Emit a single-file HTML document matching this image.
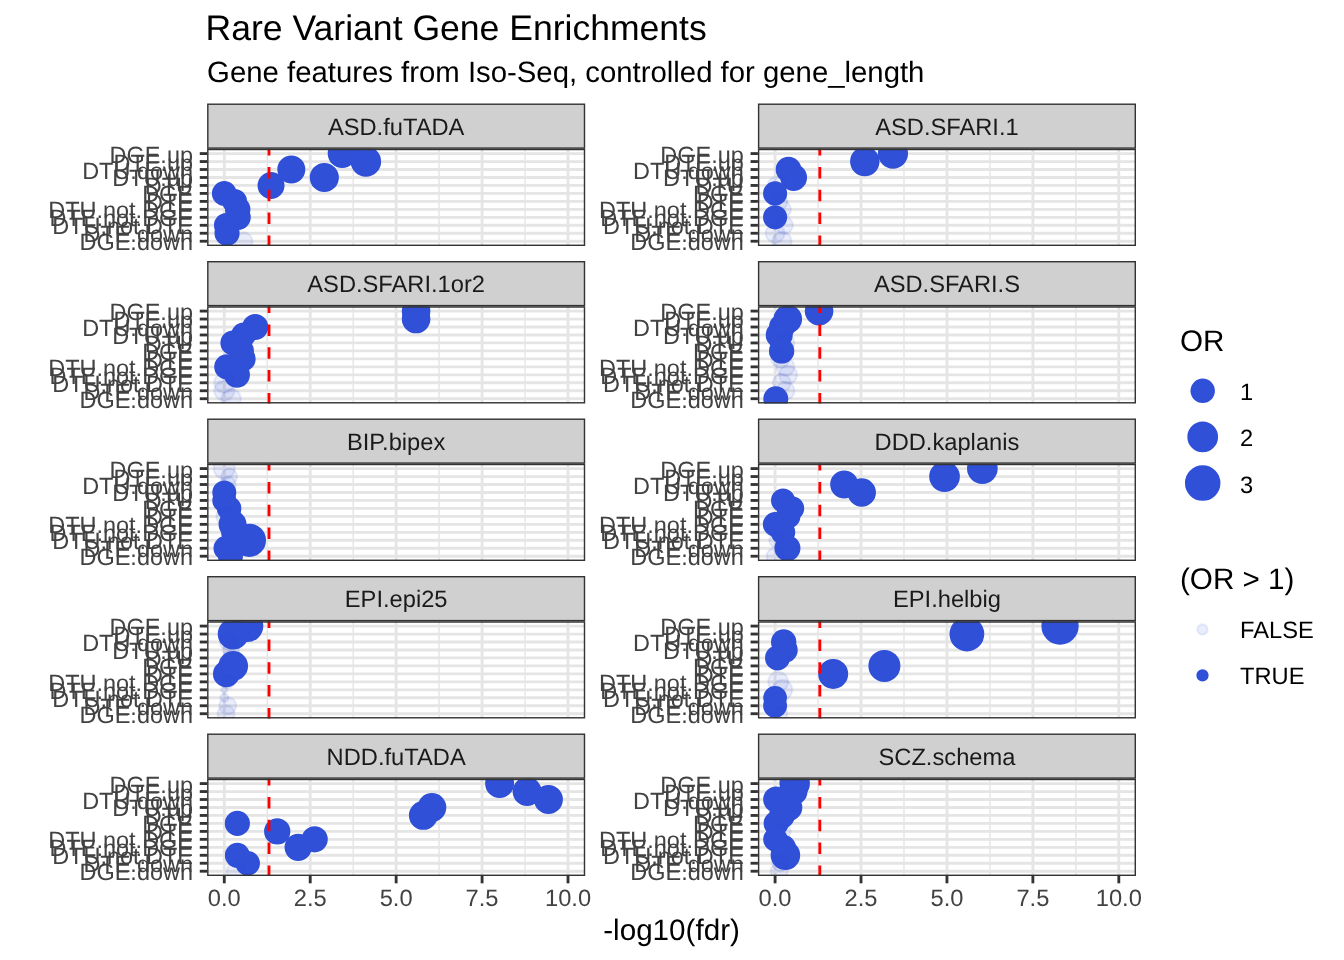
<!DOCTYPE html><html><head><meta charset="utf-8"><title>Rare Variant Gene Enrichments</title><style>html,body{margin:0;padding:0;background:#fff;}svg{display:block;will-change:transform;}text{font-family:"Liberation Sans", sans-serif;text-rendering:geometricPrecision;}</style></head><body>
<svg width="1344" height="960" viewBox="0 0 1344 960">
<rect width="1344" height="960" fill="#fff"/>
<text x="205.6" y="40.0" font-size="35.55" fill="#000">Rare Variant Gene Enrichments</text>
<text x="207.1" y="82.2" font-size="29.33" fill="#000">Gene features from Iso-Seq, controlled for gene_length</text>
<defs><clipPath id="c0"><rect x="207.1" y="148.8" width="378.1" height="97.2"/></clipPath><clipPath id="c1"><rect x="757.9" y="148.8" width="378.1" height="97.2"/></clipPath><clipPath id="c2"><rect x="207.1" y="306.3" width="378.1" height="97.2"/></clipPath><clipPath id="c3"><rect x="757.9" y="306.3" width="378.1" height="97.2"/></clipPath><clipPath id="c4"><rect x="207.1" y="463.8" width="378.1" height="97.2"/></clipPath><clipPath id="c5"><rect x="757.9" y="463.8" width="378.1" height="97.2"/></clipPath><clipPath id="c6"><rect x="207.1" y="621.3" width="378.1" height="97.2"/></clipPath><clipPath id="c7"><rect x="757.9" y="621.3" width="378.1" height="97.2"/></clipPath><clipPath id="c8"><rect x="207.1" y="778.8" width="378.1" height="97.2"/></clipPath><clipPath id="c9"><rect x="757.9" y="778.8" width="378.1" height="97.2"/></clipPath></defs>
<g clip-path="url(#c0)"><line x1="267.25" y1="148.8" x2="267.25" y2="246" stroke="#E5E5E5" stroke-width="1.42"/><line x1="353.18" y1="148.8" x2="353.18" y2="246" stroke="#E5E5E5" stroke-width="1.42"/><line x1="439.12" y1="148.8" x2="439.12" y2="246" stroke="#E5E5E5" stroke-width="1.42"/><line x1="525.05" y1="148.8" x2="525.05" y2="246" stroke="#E5E5E5" stroke-width="1.42"/><line x1="207.1" y1="153.58" x2="585.2" y2="153.58" stroke="#E5E5E5" stroke-width="2.84"/><line x1="207.1" y1="161.55" x2="585.2" y2="161.55" stroke="#E5E5E5" stroke-width="2.84"/><line x1="207.1" y1="169.51" x2="585.2" y2="169.51" stroke="#E5E5E5" stroke-width="2.84"/><line x1="207.1" y1="177.48" x2="585.2" y2="177.48" stroke="#E5E5E5" stroke-width="2.84"/><line x1="207.1" y1="185.45" x2="585.2" y2="185.45" stroke="#E5E5E5" stroke-width="2.84"/><line x1="207.1" y1="193.42" x2="585.2" y2="193.42" stroke="#E5E5E5" stroke-width="2.84"/><line x1="207.1" y1="201.38" x2="585.2" y2="201.38" stroke="#E5E5E5" stroke-width="2.84"/><line x1="207.1" y1="209.35" x2="585.2" y2="209.35" stroke="#E5E5E5" stroke-width="2.84"/><line x1="207.1" y1="217.32" x2="585.2" y2="217.32" stroke="#E5E5E5" stroke-width="2.84"/><line x1="207.1" y1="225.29" x2="585.2" y2="225.29" stroke="#E5E5E5" stroke-width="2.84"/><line x1="207.1" y1="233.25" x2="585.2" y2="233.25" stroke="#E5E5E5" stroke-width="2.84"/><line x1="207.1" y1="241.22" x2="585.2" y2="241.22" stroke="#E5E5E5" stroke-width="2.84"/><line x1="224.29" y1="148.8" x2="224.29" y2="246" stroke="#E5E5E5" stroke-width="2.84"/><line x1="310.22" y1="148.8" x2="310.22" y2="246" stroke="#E5E5E5" stroke-width="2.84"/><line x1="396.15" y1="148.8" x2="396.15" y2="246" stroke="#E5E5E5" stroke-width="2.84"/><line x1="482.08" y1="148.8" x2="482.08" y2="246" stroke="#E5E5E5" stroke-width="2.84"/><line x1="568.01" y1="148.8" x2="568.01" y2="246" stroke="#E5E5E5" stroke-width="2.84"/><circle cx="342.18" cy="153.58" r="13.55" fill="#3050D8" stroke="#3050D8" stroke-width="1.89"/><circle cx="365.9" cy="161.55" r="14.3" fill="#3050D8" stroke="#3050D8" stroke-width="1.89"/><circle cx="291.31" cy="169.51" r="13.05" fill="#3050D8" stroke="#3050D8" stroke-width="1.89"/><circle cx="324.31" cy="177.48" r="13.65" fill="#3050D8" stroke="#3050D8" stroke-width="1.89"/><circle cx="271.03" cy="185.45" r="12.55" fill="#3050D8" stroke="#3050D8" stroke-width="1.89"/><circle cx="224.29" cy="193.42" r="11.46" fill="#3050D8" stroke="#3050D8" stroke-width="1.89"/><circle cx="234.6" cy="201.38" r="11.46" fill="#3050D8" stroke="#3050D8" stroke-width="1.89"/><circle cx="237.69" cy="209.35" r="11.8" fill="#3050D8" stroke="#3050D8" stroke-width="1.89"/><circle cx="238.04" cy="217.32" r="11.8" fill="#3050D8" stroke="#3050D8" stroke-width="1.89"/><circle cx="226.35" cy="225.29" r="11.46" fill="#3050D8" stroke="#3050D8" stroke-width="1.89"/><circle cx="227.04" cy="233.25" r="11.61" fill="#3050D8" stroke="#3050D8" stroke-width="1.89"/><circle cx="243.54" cy="241.22" r="8.96" fill="#3050D8" fill-opacity="0.1" stroke="#3050D8" stroke-opacity="0.1" stroke-width="1.89"/><line x1="269.01" y1="246.8" x2="269.01" y2="143.8" stroke="#FF0000" stroke-width="2.84" stroke-dasharray="11.4 11.4"/><rect x="207.1" y="148.8" width="378.1" height="97.2" fill="none" stroke="#333333" stroke-width="2.84"/></g>
<rect x="207.81" y="104.21" width="376.68" height="43.88" fill="#D0D0D0" stroke="#333333" stroke-width="1.42"/>
<text x="396.15" y="134.9" font-size="23.7" fill="#1A1A1A" text-anchor="middle">ASD.fuTADA</text>
<line x1="199.77" y1="153.58" x2="207.1" y2="153.58" stroke="#333333" stroke-width="2.84"/>
<line x1="199.77" y1="161.55" x2="207.1" y2="161.55" stroke="#333333" stroke-width="2.84"/>
<line x1="199.77" y1="169.51" x2="207.1" y2="169.51" stroke="#333333" stroke-width="2.84"/>
<line x1="199.77" y1="177.48" x2="207.1" y2="177.48" stroke="#333333" stroke-width="2.84"/>
<line x1="199.77" y1="185.45" x2="207.1" y2="185.45" stroke="#333333" stroke-width="2.84"/>
<line x1="199.77" y1="193.42" x2="207.1" y2="193.42" stroke="#333333" stroke-width="2.84"/>
<line x1="199.77" y1="201.38" x2="207.1" y2="201.38" stroke="#333333" stroke-width="2.84"/>
<line x1="199.77" y1="209.35" x2="207.1" y2="209.35" stroke="#333333" stroke-width="2.84"/>
<line x1="199.77" y1="217.32" x2="207.1" y2="217.32" stroke="#333333" stroke-width="2.84"/>
<line x1="199.77" y1="225.29" x2="207.1" y2="225.29" stroke="#333333" stroke-width="2.84"/>
<line x1="199.77" y1="233.25" x2="207.1" y2="233.25" stroke="#333333" stroke-width="2.84"/>
<line x1="199.77" y1="241.22" x2="207.1" y2="241.22" stroke="#333333" stroke-width="2.84"/>
<text x="193" y="162.58" font-size="23.47" fill="#424242" text-anchor="end">DGE.up</text>
<text x="193" y="170.55" font-size="23.47" fill="#424242" text-anchor="end">DTE.up</text>
<text x="193" y="178.51" font-size="23.47" fill="#424242" text-anchor="end">DTU.down</text>
<text x="193" y="186.48" font-size="23.47" fill="#424242" text-anchor="end">DTU.up</text>
<text x="193" y="194.45" font-size="23.47" fill="#424242" text-anchor="end">DTU</text>
<text x="193" y="202.42" font-size="23.47" fill="#424242" text-anchor="end">DGE</text>
<text x="193" y="210.38" font-size="23.47" fill="#424242" text-anchor="end">DTE</text>
<text x="193" y="218.35" font-size="23.47" fill="#424242" text-anchor="end">DTU.not.DGE</text>
<text x="193" y="226.32" font-size="23.47" fill="#424242" text-anchor="end">DTE.not.DGE</text>
<text x="193" y="234.29" font-size="23.47" fill="#424242" text-anchor="end">DTU.not.DTE</text>
<text x="193" y="242.25" font-size="23.47" fill="#424242" text-anchor="end">DTE.down</text>
<text x="193" y="250.22" font-size="23.47" fill="#424242" text-anchor="end">DGE.down</text>
<g clip-path="url(#c1)"><line x1="818.05" y1="148.8" x2="818.05" y2="246" stroke="#E5E5E5" stroke-width="1.42"/><line x1="903.98" y1="148.8" x2="903.98" y2="246" stroke="#E5E5E5" stroke-width="1.42"/><line x1="989.92" y1="148.8" x2="989.92" y2="246" stroke="#E5E5E5" stroke-width="1.42"/><line x1="1075.85" y1="148.8" x2="1075.85" y2="246" stroke="#E5E5E5" stroke-width="1.42"/><line x1="757.9" y1="153.58" x2="1136" y2="153.58" stroke="#E5E5E5" stroke-width="2.84"/><line x1="757.9" y1="161.55" x2="1136" y2="161.55" stroke="#E5E5E5" stroke-width="2.84"/><line x1="757.9" y1="169.51" x2="1136" y2="169.51" stroke="#E5E5E5" stroke-width="2.84"/><line x1="757.9" y1="177.48" x2="1136" y2="177.48" stroke="#E5E5E5" stroke-width="2.84"/><line x1="757.9" y1="185.45" x2="1136" y2="185.45" stroke="#E5E5E5" stroke-width="2.84"/><line x1="757.9" y1="193.42" x2="1136" y2="193.42" stroke="#E5E5E5" stroke-width="2.84"/><line x1="757.9" y1="201.38" x2="1136" y2="201.38" stroke="#E5E5E5" stroke-width="2.84"/><line x1="757.9" y1="209.35" x2="1136" y2="209.35" stroke="#E5E5E5" stroke-width="2.84"/><line x1="757.9" y1="217.32" x2="1136" y2="217.32" stroke="#E5E5E5" stroke-width="2.84"/><line x1="757.9" y1="225.29" x2="1136" y2="225.29" stroke="#E5E5E5" stroke-width="2.84"/><line x1="757.9" y1="233.25" x2="1136" y2="233.25" stroke="#E5E5E5" stroke-width="2.84"/><line x1="757.9" y1="241.22" x2="1136" y2="241.22" stroke="#E5E5E5" stroke-width="2.84"/><line x1="775.09" y1="148.8" x2="775.09" y2="246" stroke="#E5E5E5" stroke-width="2.84"/><line x1="861.02" y1="148.8" x2="861.02" y2="246" stroke="#E5E5E5" stroke-width="2.84"/><line x1="946.95" y1="148.8" x2="946.95" y2="246" stroke="#E5E5E5" stroke-width="2.84"/><line x1="1032.88" y1="148.8" x2="1032.88" y2="246" stroke="#E5E5E5" stroke-width="2.84"/><line x1="1118.81" y1="148.8" x2="1118.81" y2="246" stroke="#E5E5E5" stroke-width="2.84"/><circle cx="892.98" cy="153.58" r="14.11" fill="#3050D8" stroke="#3050D8" stroke-width="1.89"/><circle cx="864.8" cy="161.55" r="13.8" fill="#3050D8" stroke="#3050D8" stroke-width="1.89"/><circle cx="788.49" cy="169.51" r="11.9" fill="#3050D8" stroke="#3050D8" stroke-width="1.89"/><circle cx="793.65" cy="177.48" r="12.46" fill="#3050D8" stroke="#3050D8" stroke-width="1.89"/><circle cx="776.8" cy="185.45" r="9.05" fill="#3050D8" fill-opacity="0.1" stroke="#3050D8" stroke-opacity="0.1" stroke-width="1.89"/><circle cx="775.09" cy="193.42" r="11.11" fill="#3050D8" stroke="#3050D8" stroke-width="1.89"/><circle cx="778.52" cy="201.38" r="9.05" fill="#3050D8" fill-opacity="0.1" stroke="#3050D8" stroke-opacity="0.1" stroke-width="1.89"/><circle cx="781.96" cy="209.35" r="9.05" fill="#3050D8" fill-opacity="0.1" stroke="#3050D8" stroke-opacity="0.1" stroke-width="1.89"/><circle cx="775.09" cy="217.32" r="11.11" fill="#3050D8" stroke="#3050D8" stroke-width="1.89"/><circle cx="784.37" cy="225.29" r="8.55" fill="#3050D8" fill-opacity="0.1" stroke="#3050D8" stroke-opacity="0.1" stroke-width="1.89"/><circle cx="775.09" cy="233.25" r="9.55" fill="#3050D8" fill-opacity="0.1" stroke="#3050D8" stroke-opacity="0.1" stroke-width="1.89"/><circle cx="781.96" cy="241.22" r="9.55" fill="#3050D8" fill-opacity="0.1" stroke="#3050D8" stroke-opacity="0.1" stroke-width="1.89"/><line x1="819.81" y1="246.8" x2="819.81" y2="143.8" stroke="#FF0000" stroke-width="2.84" stroke-dasharray="11.4 11.4"/><rect x="757.9" y="148.8" width="378.1" height="97.2" fill="none" stroke="#333333" stroke-width="2.84"/></g>
<rect x="758.61" y="104.21" width="376.68" height="43.88" fill="#D0D0D0" stroke="#333333" stroke-width="1.42"/>
<text x="946.95" y="134.9" font-size="23.7" fill="#1A1A1A" text-anchor="middle">ASD.SFARI.1</text>
<line x1="750.57" y1="153.58" x2="757.9" y2="153.58" stroke="#333333" stroke-width="2.84"/>
<line x1="750.57" y1="161.55" x2="757.9" y2="161.55" stroke="#333333" stroke-width="2.84"/>
<line x1="750.57" y1="169.51" x2="757.9" y2="169.51" stroke="#333333" stroke-width="2.84"/>
<line x1="750.57" y1="177.48" x2="757.9" y2="177.48" stroke="#333333" stroke-width="2.84"/>
<line x1="750.57" y1="185.45" x2="757.9" y2="185.45" stroke="#333333" stroke-width="2.84"/>
<line x1="750.57" y1="193.42" x2="757.9" y2="193.42" stroke="#333333" stroke-width="2.84"/>
<line x1="750.57" y1="201.38" x2="757.9" y2="201.38" stroke="#333333" stroke-width="2.84"/>
<line x1="750.57" y1="209.35" x2="757.9" y2="209.35" stroke="#333333" stroke-width="2.84"/>
<line x1="750.57" y1="217.32" x2="757.9" y2="217.32" stroke="#333333" stroke-width="2.84"/>
<line x1="750.57" y1="225.29" x2="757.9" y2="225.29" stroke="#333333" stroke-width="2.84"/>
<line x1="750.57" y1="233.25" x2="757.9" y2="233.25" stroke="#333333" stroke-width="2.84"/>
<line x1="750.57" y1="241.22" x2="757.9" y2="241.22" stroke="#333333" stroke-width="2.84"/>
<text x="743.8" y="162.58" font-size="23.47" fill="#424242" text-anchor="end">DGE.up</text>
<text x="743.8" y="170.55" font-size="23.47" fill="#424242" text-anchor="end">DTE.up</text>
<text x="743.8" y="178.51" font-size="23.47" fill="#424242" text-anchor="end">DTU.down</text>
<text x="743.8" y="186.48" font-size="23.47" fill="#424242" text-anchor="end">DTU.up</text>
<text x="743.8" y="194.45" font-size="23.47" fill="#424242" text-anchor="end">DTU</text>
<text x="743.8" y="202.42" font-size="23.47" fill="#424242" text-anchor="end">DGE</text>
<text x="743.8" y="210.38" font-size="23.47" fill="#424242" text-anchor="end">DTE</text>
<text x="743.8" y="218.35" font-size="23.47" fill="#424242" text-anchor="end">DTU.not.DGE</text>
<text x="743.8" y="226.32" font-size="23.47" fill="#424242" text-anchor="end">DTE.not.DGE</text>
<text x="743.8" y="234.29" font-size="23.47" fill="#424242" text-anchor="end">DTU.not.DTE</text>
<text x="743.8" y="242.25" font-size="23.47" fill="#424242" text-anchor="end">DTE.down</text>
<text x="743.8" y="250.22" font-size="23.47" fill="#424242" text-anchor="end">DGE.down</text>
<g clip-path="url(#c2)"><line x1="267.25" y1="306.3" x2="267.25" y2="403.5" stroke="#E5E5E5" stroke-width="1.42"/><line x1="353.18" y1="306.3" x2="353.18" y2="403.5" stroke="#E5E5E5" stroke-width="1.42"/><line x1="439.12" y1="306.3" x2="439.12" y2="403.5" stroke="#E5E5E5" stroke-width="1.42"/><line x1="525.05" y1="306.3" x2="525.05" y2="403.5" stroke="#E5E5E5" stroke-width="1.42"/><line x1="207.1" y1="311.08" x2="585.2" y2="311.08" stroke="#E5E5E5" stroke-width="2.84"/><line x1="207.1" y1="319.05" x2="585.2" y2="319.05" stroke="#E5E5E5" stroke-width="2.84"/><line x1="207.1" y1="327.01" x2="585.2" y2="327.01" stroke="#E5E5E5" stroke-width="2.84"/><line x1="207.1" y1="334.98" x2="585.2" y2="334.98" stroke="#E5E5E5" stroke-width="2.84"/><line x1="207.1" y1="342.95" x2="585.2" y2="342.95" stroke="#E5E5E5" stroke-width="2.84"/><line x1="207.1" y1="350.92" x2="585.2" y2="350.92" stroke="#E5E5E5" stroke-width="2.84"/><line x1="207.1" y1="358.88" x2="585.2" y2="358.88" stroke="#E5E5E5" stroke-width="2.84"/><line x1="207.1" y1="366.85" x2="585.2" y2="366.85" stroke="#E5E5E5" stroke-width="2.84"/><line x1="207.1" y1="374.82" x2="585.2" y2="374.82" stroke="#E5E5E5" stroke-width="2.84"/><line x1="207.1" y1="382.79" x2="585.2" y2="382.79" stroke="#E5E5E5" stroke-width="2.84"/><line x1="207.1" y1="390.75" x2="585.2" y2="390.75" stroke="#E5E5E5" stroke-width="2.84"/><line x1="207.1" y1="398.72" x2="585.2" y2="398.72" stroke="#E5E5E5" stroke-width="2.84"/><line x1="224.29" y1="306.3" x2="224.29" y2="403.5" stroke="#E5E5E5" stroke-width="2.84"/><line x1="310.22" y1="306.3" x2="310.22" y2="403.5" stroke="#E5E5E5" stroke-width="2.84"/><line x1="396.15" y1="306.3" x2="396.15" y2="403.5" stroke="#E5E5E5" stroke-width="2.84"/><line x1="482.08" y1="306.3" x2="482.08" y2="403.5" stroke="#E5E5E5" stroke-width="2.84"/><line x1="568.01" y1="306.3" x2="568.01" y2="403.5" stroke="#E5E5E5" stroke-width="2.84"/><circle cx="416.09" cy="311.08" r="13.36" fill="#3050D8" stroke="#3050D8" stroke-width="1.89"/><circle cx="416.09" cy="319.05" r="13.36" fill="#3050D8" stroke="#3050D8" stroke-width="1.89"/><circle cx="255.22" cy="327.01" r="12.05" fill="#3050D8" stroke="#3050D8" stroke-width="1.89"/><circle cx="243.54" cy="334.98" r="11.55" fill="#3050D8" stroke="#3050D8" stroke-width="1.89"/><circle cx="232.88" cy="342.95" r="11.55" fill="#3050D8" stroke="#3050D8" stroke-width="1.89"/><circle cx="241.47" cy="350.92" r="11.55" fill="#3050D8" stroke="#3050D8" stroke-width="1.89"/><circle cx="243.19" cy="358.88" r="11.55" fill="#3050D8" stroke="#3050D8" stroke-width="1.89"/><circle cx="226.69" cy="366.85" r="11.55" fill="#3050D8" stroke="#3050D8" stroke-width="1.89"/><circle cx="237" cy="374.82" r="12.05" fill="#3050D8" stroke="#3050D8" stroke-width="1.89"/><circle cx="224.29" cy="382.79" r="10.05" fill="#3050D8" fill-opacity="0.1" stroke="#3050D8" stroke-opacity="0.1" stroke-width="1.89"/><circle cx="224.29" cy="390.75" r="10.05" fill="#3050D8" fill-opacity="0.1" stroke="#3050D8" stroke-opacity="0.1" stroke-width="1.89"/><circle cx="231.16" cy="398.72" r="9.8" fill="#3050D8" fill-opacity="0.1" stroke="#3050D8" stroke-opacity="0.1" stroke-width="1.89"/><line x1="269.01" y1="404.3" x2="269.01" y2="301.3" stroke="#FF0000" stroke-width="2.84" stroke-dasharray="11.4 11.4"/><rect x="207.1" y="306.3" width="378.1" height="97.2" fill="none" stroke="#333333" stroke-width="2.84"/></g>
<rect x="207.81" y="261.71" width="376.68" height="43.88" fill="#D0D0D0" stroke="#333333" stroke-width="1.42"/>
<text x="396.15" y="292.4" font-size="23.7" fill="#1A1A1A" text-anchor="middle">ASD.SFARI.1or2</text>
<line x1="199.77" y1="311.08" x2="207.1" y2="311.08" stroke="#333333" stroke-width="2.84"/>
<line x1="199.77" y1="319.05" x2="207.1" y2="319.05" stroke="#333333" stroke-width="2.84"/>
<line x1="199.77" y1="327.01" x2="207.1" y2="327.01" stroke="#333333" stroke-width="2.84"/>
<line x1="199.77" y1="334.98" x2="207.1" y2="334.98" stroke="#333333" stroke-width="2.84"/>
<line x1="199.77" y1="342.95" x2="207.1" y2="342.95" stroke="#333333" stroke-width="2.84"/>
<line x1="199.77" y1="350.92" x2="207.1" y2="350.92" stroke="#333333" stroke-width="2.84"/>
<line x1="199.77" y1="358.88" x2="207.1" y2="358.88" stroke="#333333" stroke-width="2.84"/>
<line x1="199.77" y1="366.85" x2="207.1" y2="366.85" stroke="#333333" stroke-width="2.84"/>
<line x1="199.77" y1="374.82" x2="207.1" y2="374.82" stroke="#333333" stroke-width="2.84"/>
<line x1="199.77" y1="382.79" x2="207.1" y2="382.79" stroke="#333333" stroke-width="2.84"/>
<line x1="199.77" y1="390.75" x2="207.1" y2="390.75" stroke="#333333" stroke-width="2.84"/>
<line x1="199.77" y1="398.72" x2="207.1" y2="398.72" stroke="#333333" stroke-width="2.84"/>
<text x="193" y="320.08" font-size="23.47" fill="#424242" text-anchor="end">DGE.up</text>
<text x="193" y="328.05" font-size="23.47" fill="#424242" text-anchor="end">DTE.up</text>
<text x="193" y="336.01" font-size="23.47" fill="#424242" text-anchor="end">DTU.down</text>
<text x="193" y="343.98" font-size="23.47" fill="#424242" text-anchor="end">DTU.up</text>
<text x="193" y="351.95" font-size="23.47" fill="#424242" text-anchor="end">DTU</text>
<text x="193" y="359.92" font-size="23.47" fill="#424242" text-anchor="end">DGE</text>
<text x="193" y="367.88" font-size="23.47" fill="#424242" text-anchor="end">DTE</text>
<text x="193" y="375.85" font-size="23.47" fill="#424242" text-anchor="end">DTU.not.DGE</text>
<text x="193" y="383.82" font-size="23.47" fill="#424242" text-anchor="end">DTE.not.DGE</text>
<text x="193" y="391.79" font-size="23.47" fill="#424242" text-anchor="end">DTU.not.DTE</text>
<text x="193" y="399.75" font-size="23.47" fill="#424242" text-anchor="end">DTE.down</text>
<text x="193" y="407.72" font-size="23.47" fill="#424242" text-anchor="end">DGE.down</text>
<g clip-path="url(#c3)"><line x1="818.05" y1="306.3" x2="818.05" y2="403.5" stroke="#E5E5E5" stroke-width="1.42"/><line x1="903.98" y1="306.3" x2="903.98" y2="403.5" stroke="#E5E5E5" stroke-width="1.42"/><line x1="989.92" y1="306.3" x2="989.92" y2="403.5" stroke="#E5E5E5" stroke-width="1.42"/><line x1="1075.85" y1="306.3" x2="1075.85" y2="403.5" stroke="#E5E5E5" stroke-width="1.42"/><line x1="757.9" y1="311.08" x2="1136" y2="311.08" stroke="#E5E5E5" stroke-width="2.84"/><line x1="757.9" y1="319.05" x2="1136" y2="319.05" stroke="#E5E5E5" stroke-width="2.84"/><line x1="757.9" y1="327.01" x2="1136" y2="327.01" stroke="#E5E5E5" stroke-width="2.84"/><line x1="757.9" y1="334.98" x2="1136" y2="334.98" stroke="#E5E5E5" stroke-width="2.84"/><line x1="757.9" y1="342.95" x2="1136" y2="342.95" stroke="#E5E5E5" stroke-width="2.84"/><line x1="757.9" y1="350.92" x2="1136" y2="350.92" stroke="#E5E5E5" stroke-width="2.84"/><line x1="757.9" y1="358.88" x2="1136" y2="358.88" stroke="#E5E5E5" stroke-width="2.84"/><line x1="757.9" y1="366.85" x2="1136" y2="366.85" stroke="#E5E5E5" stroke-width="2.84"/><line x1="757.9" y1="374.82" x2="1136" y2="374.82" stroke="#E5E5E5" stroke-width="2.84"/><line x1="757.9" y1="382.79" x2="1136" y2="382.79" stroke="#E5E5E5" stroke-width="2.84"/><line x1="757.9" y1="390.75" x2="1136" y2="390.75" stroke="#E5E5E5" stroke-width="2.84"/><line x1="757.9" y1="398.72" x2="1136" y2="398.72" stroke="#E5E5E5" stroke-width="2.84"/><line x1="775.09" y1="306.3" x2="775.09" y2="403.5" stroke="#E5E5E5" stroke-width="2.84"/><line x1="861.02" y1="306.3" x2="861.02" y2="403.5" stroke="#E5E5E5" stroke-width="2.84"/><line x1="946.95" y1="306.3" x2="946.95" y2="403.5" stroke="#E5E5E5" stroke-width="2.84"/><line x1="1032.88" y1="306.3" x2="1032.88" y2="403.5" stroke="#E5E5E5" stroke-width="2.84"/><line x1="1118.81" y1="306.3" x2="1118.81" y2="403.5" stroke="#E5E5E5" stroke-width="2.84"/><circle cx="819.08" cy="311.08" r="13.36" fill="#3050D8" stroke="#3050D8" stroke-width="1.89"/><circle cx="787.8" cy="319.05" r="13.36" fill="#3050D8" stroke="#3050D8" stroke-width="1.89"/><circle cx="781.96" cy="327.01" r="12.05" fill="#3050D8" stroke="#3050D8" stroke-width="1.89"/><circle cx="779.21" cy="334.98" r="12.55" fill="#3050D8" stroke="#3050D8" stroke-width="1.89"/><circle cx="785.4" cy="342.95" r="9.05" fill="#3050D8" fill-opacity="0.1" stroke="#3050D8" stroke-opacity="0.1" stroke-width="1.89"/><circle cx="781.62" cy="350.92" r="11.75" fill="#3050D8" stroke="#3050D8" stroke-width="1.89"/><circle cx="780.24" cy="358.88" r="9.05" fill="#3050D8" fill-opacity="0.1" stroke="#3050D8" stroke-opacity="0.1" stroke-width="1.89"/><circle cx="785.4" cy="366.85" r="9.05" fill="#3050D8" fill-opacity="0.1" stroke="#3050D8" stroke-opacity="0.1" stroke-width="1.89"/><circle cx="788.15" cy="374.82" r="9.05" fill="#3050D8" fill-opacity="0.1" stroke="#3050D8" stroke-opacity="0.1" stroke-width="1.89"/><circle cx="781.62" cy="382.79" r="9.05" fill="#3050D8" fill-opacity="0.1" stroke="#3050D8" stroke-opacity="0.1" stroke-width="1.89"/><circle cx="785.4" cy="390.75" r="9.05" fill="#3050D8" fill-opacity="0.1" stroke="#3050D8" stroke-opacity="0.1" stroke-width="1.89"/><circle cx="775.77" cy="398.72" r="11.55" fill="#3050D8" stroke="#3050D8" stroke-width="1.89"/><line x1="819.81" y1="404.3" x2="819.81" y2="301.3" stroke="#FF0000" stroke-width="2.84" stroke-dasharray="11.4 11.4"/><rect x="757.9" y="306.3" width="378.1" height="97.2" fill="none" stroke="#333333" stroke-width="2.84"/></g>
<rect x="758.61" y="261.71" width="376.68" height="43.88" fill="#D0D0D0" stroke="#333333" stroke-width="1.42"/>
<text x="946.95" y="292.4" font-size="23.7" fill="#1A1A1A" text-anchor="middle">ASD.SFARI.S</text>
<line x1="750.57" y1="311.08" x2="757.9" y2="311.08" stroke="#333333" stroke-width="2.84"/>
<line x1="750.57" y1="319.05" x2="757.9" y2="319.05" stroke="#333333" stroke-width="2.84"/>
<line x1="750.57" y1="327.01" x2="757.9" y2="327.01" stroke="#333333" stroke-width="2.84"/>
<line x1="750.57" y1="334.98" x2="757.9" y2="334.98" stroke="#333333" stroke-width="2.84"/>
<line x1="750.57" y1="342.95" x2="757.9" y2="342.95" stroke="#333333" stroke-width="2.84"/>
<line x1="750.57" y1="350.92" x2="757.9" y2="350.92" stroke="#333333" stroke-width="2.84"/>
<line x1="750.57" y1="358.88" x2="757.9" y2="358.88" stroke="#333333" stroke-width="2.84"/>
<line x1="750.57" y1="366.85" x2="757.9" y2="366.85" stroke="#333333" stroke-width="2.84"/>
<line x1="750.57" y1="374.82" x2="757.9" y2="374.82" stroke="#333333" stroke-width="2.84"/>
<line x1="750.57" y1="382.79" x2="757.9" y2="382.79" stroke="#333333" stroke-width="2.84"/>
<line x1="750.57" y1="390.75" x2="757.9" y2="390.75" stroke="#333333" stroke-width="2.84"/>
<line x1="750.57" y1="398.72" x2="757.9" y2="398.72" stroke="#333333" stroke-width="2.84"/>
<text x="743.8" y="320.08" font-size="23.47" fill="#424242" text-anchor="end">DGE.up</text>
<text x="743.8" y="328.05" font-size="23.47" fill="#424242" text-anchor="end">DTE.up</text>
<text x="743.8" y="336.01" font-size="23.47" fill="#424242" text-anchor="end">DTU.down</text>
<text x="743.8" y="343.98" font-size="23.47" fill="#424242" text-anchor="end">DTU.up</text>
<text x="743.8" y="351.95" font-size="23.47" fill="#424242" text-anchor="end">DTU</text>
<text x="743.8" y="359.92" font-size="23.47" fill="#424242" text-anchor="end">DGE</text>
<text x="743.8" y="367.88" font-size="23.47" fill="#424242" text-anchor="end">DTE</text>
<text x="743.8" y="375.85" font-size="23.47" fill="#424242" text-anchor="end">DTU.not.DGE</text>
<text x="743.8" y="383.82" font-size="23.47" fill="#424242" text-anchor="end">DTE.not.DGE</text>
<text x="743.8" y="391.79" font-size="23.47" fill="#424242" text-anchor="end">DTU.not.DTE</text>
<text x="743.8" y="399.75" font-size="23.47" fill="#424242" text-anchor="end">DTE.down</text>
<text x="743.8" y="407.72" font-size="23.47" fill="#424242" text-anchor="end">DGE.down</text>
<g clip-path="url(#c4)"><line x1="267.25" y1="463.8" x2="267.25" y2="561" stroke="#E5E5E5" stroke-width="1.42"/><line x1="353.18" y1="463.8" x2="353.18" y2="561" stroke="#E5E5E5" stroke-width="1.42"/><line x1="439.12" y1="463.8" x2="439.12" y2="561" stroke="#E5E5E5" stroke-width="1.42"/><line x1="525.05" y1="463.8" x2="525.05" y2="561" stroke="#E5E5E5" stroke-width="1.42"/><line x1="207.1" y1="468.58" x2="585.2" y2="468.58" stroke="#E5E5E5" stroke-width="2.84"/><line x1="207.1" y1="476.55" x2="585.2" y2="476.55" stroke="#E5E5E5" stroke-width="2.84"/><line x1="207.1" y1="484.51" x2="585.2" y2="484.51" stroke="#E5E5E5" stroke-width="2.84"/><line x1="207.1" y1="492.48" x2="585.2" y2="492.48" stroke="#E5E5E5" stroke-width="2.84"/><line x1="207.1" y1="500.45" x2="585.2" y2="500.45" stroke="#E5E5E5" stroke-width="2.84"/><line x1="207.1" y1="508.42" x2="585.2" y2="508.42" stroke="#E5E5E5" stroke-width="2.84"/><line x1="207.1" y1="516.38" x2="585.2" y2="516.38" stroke="#E5E5E5" stroke-width="2.84"/><line x1="207.1" y1="524.35" x2="585.2" y2="524.35" stroke="#E5E5E5" stroke-width="2.84"/><line x1="207.1" y1="532.32" x2="585.2" y2="532.32" stroke="#E5E5E5" stroke-width="2.84"/><line x1="207.1" y1="540.29" x2="585.2" y2="540.29" stroke="#E5E5E5" stroke-width="2.84"/><line x1="207.1" y1="548.25" x2="585.2" y2="548.25" stroke="#E5E5E5" stroke-width="2.84"/><line x1="207.1" y1="556.22" x2="585.2" y2="556.22" stroke="#E5E5E5" stroke-width="2.84"/><line x1="224.29" y1="463.8" x2="224.29" y2="561" stroke="#E5E5E5" stroke-width="2.84"/><line x1="310.22" y1="463.8" x2="310.22" y2="561" stroke="#E5E5E5" stroke-width="2.84"/><line x1="396.15" y1="463.8" x2="396.15" y2="561" stroke="#E5E5E5" stroke-width="2.84"/><line x1="482.08" y1="463.8" x2="482.08" y2="561" stroke="#E5E5E5" stroke-width="2.84"/><line x1="568.01" y1="463.8" x2="568.01" y2="561" stroke="#E5E5E5" stroke-width="2.84"/><circle cx="224.29" cy="468.58" r="10.55" fill="#3050D8" fill-opacity="0.1" stroke="#3050D8" stroke-opacity="0.1" stroke-width="1.89"/><circle cx="229.1" cy="476.55" r="8.05" fill="#3050D8" fill-opacity="0.1" stroke="#3050D8" stroke-opacity="0.1" stroke-width="1.89"/><circle cx="227.72" cy="484.51" r="8.05" fill="#3050D8" fill-opacity="0.1" stroke="#3050D8" stroke-opacity="0.1" stroke-width="1.89"/><circle cx="224.29" cy="492.48" r="11.05" fill="#3050D8" stroke="#3050D8" stroke-width="1.89"/><circle cx="224.29" cy="500.45" r="11.05" fill="#3050D8" stroke="#3050D8" stroke-width="1.89"/><circle cx="229.1" cy="508.42" r="11.3" fill="#3050D8" stroke="#3050D8" stroke-width="1.89"/><circle cx="225.32" cy="516.38" r="9.05" fill="#3050D8" fill-opacity="0.1" stroke="#3050D8" stroke-opacity="0.1" stroke-width="1.89"/><circle cx="232.54" cy="524.35" r="13.05" fill="#3050D8" stroke="#3050D8" stroke-width="1.89"/><circle cx="233.57" cy="532.32" r="11.55" fill="#3050D8" stroke="#3050D8" stroke-width="1.89"/><circle cx="249.38" cy="540.29" r="15.7" fill="#3050D8" stroke="#3050D8" stroke-width="1.89"/><circle cx="226" cy="548.25" r="11.55" fill="#3050D8" stroke="#3050D8" stroke-width="1.89"/><circle cx="230.47" cy="556.22" r="11.55" fill="#3050D8" stroke="#3050D8" stroke-width="1.89"/><line x1="269.01" y1="561.8" x2="269.01" y2="458.8" stroke="#FF0000" stroke-width="2.84" stroke-dasharray="11.4 11.4"/><rect x="207.1" y="463.8" width="378.1" height="97.2" fill="none" stroke="#333333" stroke-width="2.84"/></g>
<rect x="207.81" y="419.21" width="376.68" height="43.88" fill="#D0D0D0" stroke="#333333" stroke-width="1.42"/>
<text x="396.15" y="449.9" font-size="23.7" fill="#1A1A1A" text-anchor="middle">BIP.bipex</text>
<line x1="199.77" y1="468.58" x2="207.1" y2="468.58" stroke="#333333" stroke-width="2.84"/>
<line x1="199.77" y1="476.55" x2="207.1" y2="476.55" stroke="#333333" stroke-width="2.84"/>
<line x1="199.77" y1="484.51" x2="207.1" y2="484.51" stroke="#333333" stroke-width="2.84"/>
<line x1="199.77" y1="492.48" x2="207.1" y2="492.48" stroke="#333333" stroke-width="2.84"/>
<line x1="199.77" y1="500.45" x2="207.1" y2="500.45" stroke="#333333" stroke-width="2.84"/>
<line x1="199.77" y1="508.42" x2="207.1" y2="508.42" stroke="#333333" stroke-width="2.84"/>
<line x1="199.77" y1="516.38" x2="207.1" y2="516.38" stroke="#333333" stroke-width="2.84"/>
<line x1="199.77" y1="524.35" x2="207.1" y2="524.35" stroke="#333333" stroke-width="2.84"/>
<line x1="199.77" y1="532.32" x2="207.1" y2="532.32" stroke="#333333" stroke-width="2.84"/>
<line x1="199.77" y1="540.29" x2="207.1" y2="540.29" stroke="#333333" stroke-width="2.84"/>
<line x1="199.77" y1="548.25" x2="207.1" y2="548.25" stroke="#333333" stroke-width="2.84"/>
<line x1="199.77" y1="556.22" x2="207.1" y2="556.22" stroke="#333333" stroke-width="2.84"/>
<text x="193" y="477.58" font-size="23.47" fill="#424242" text-anchor="end">DGE.up</text>
<text x="193" y="485.55" font-size="23.47" fill="#424242" text-anchor="end">DTE.up</text>
<text x="193" y="493.51" font-size="23.47" fill="#424242" text-anchor="end">DTU.down</text>
<text x="193" y="501.48" font-size="23.47" fill="#424242" text-anchor="end">DTU.up</text>
<text x="193" y="509.45" font-size="23.47" fill="#424242" text-anchor="end">DTU</text>
<text x="193" y="517.42" font-size="23.47" fill="#424242" text-anchor="end">DGE</text>
<text x="193" y="525.38" font-size="23.47" fill="#424242" text-anchor="end">DTE</text>
<text x="193" y="533.35" font-size="23.47" fill="#424242" text-anchor="end">DTU.not.DGE</text>
<text x="193" y="541.32" font-size="23.47" fill="#424242" text-anchor="end">DTE.not.DGE</text>
<text x="193" y="549.29" font-size="23.47" fill="#424242" text-anchor="end">DTU.not.DTE</text>
<text x="193" y="557.25" font-size="23.47" fill="#424242" text-anchor="end">DTE.down</text>
<text x="193" y="565.22" font-size="23.47" fill="#424242" text-anchor="end">DGE.down</text>
<g clip-path="url(#c5)"><line x1="818.05" y1="463.8" x2="818.05" y2="561" stroke="#E5E5E5" stroke-width="1.42"/><line x1="903.98" y1="463.8" x2="903.98" y2="561" stroke="#E5E5E5" stroke-width="1.42"/><line x1="989.92" y1="463.8" x2="989.92" y2="561" stroke="#E5E5E5" stroke-width="1.42"/><line x1="1075.85" y1="463.8" x2="1075.85" y2="561" stroke="#E5E5E5" stroke-width="1.42"/><line x1="757.9" y1="468.58" x2="1136" y2="468.58" stroke="#E5E5E5" stroke-width="2.84"/><line x1="757.9" y1="476.55" x2="1136" y2="476.55" stroke="#E5E5E5" stroke-width="2.84"/><line x1="757.9" y1="484.51" x2="1136" y2="484.51" stroke="#E5E5E5" stroke-width="2.84"/><line x1="757.9" y1="492.48" x2="1136" y2="492.48" stroke="#E5E5E5" stroke-width="2.84"/><line x1="757.9" y1="500.45" x2="1136" y2="500.45" stroke="#E5E5E5" stroke-width="2.84"/><line x1="757.9" y1="508.42" x2="1136" y2="508.42" stroke="#E5E5E5" stroke-width="2.84"/><line x1="757.9" y1="516.38" x2="1136" y2="516.38" stroke="#E5E5E5" stroke-width="2.84"/><line x1="757.9" y1="524.35" x2="1136" y2="524.35" stroke="#E5E5E5" stroke-width="2.84"/><line x1="757.9" y1="532.32" x2="1136" y2="532.32" stroke="#E5E5E5" stroke-width="2.84"/><line x1="757.9" y1="540.29" x2="1136" y2="540.29" stroke="#E5E5E5" stroke-width="2.84"/><line x1="757.9" y1="548.25" x2="1136" y2="548.25" stroke="#E5E5E5" stroke-width="2.84"/><line x1="757.9" y1="556.22" x2="1136" y2="556.22" stroke="#E5E5E5" stroke-width="2.84"/><line x1="775.09" y1="463.8" x2="775.09" y2="561" stroke="#E5E5E5" stroke-width="2.84"/><line x1="861.02" y1="463.8" x2="861.02" y2="561" stroke="#E5E5E5" stroke-width="2.84"/><line x1="946.95" y1="463.8" x2="946.95" y2="561" stroke="#E5E5E5" stroke-width="2.84"/><line x1="1032.88" y1="463.8" x2="1032.88" y2="561" stroke="#E5E5E5" stroke-width="2.84"/><line x1="1118.81" y1="463.8" x2="1118.81" y2="561" stroke="#E5E5E5" stroke-width="2.84"/><circle cx="982.35" cy="468.58" r="14.4" fill="#3050D8" stroke="#3050D8" stroke-width="1.89"/><circle cx="944.54" cy="476.55" r="14.4" fill="#3050D8" stroke="#3050D8" stroke-width="1.89"/><circle cx="844.18" cy="484.51" r="13.05" fill="#3050D8" stroke="#3050D8" stroke-width="1.89"/><circle cx="861.71" cy="492.48" r="13.3" fill="#3050D8" stroke="#3050D8" stroke-width="1.89"/><circle cx="782.99" cy="500.45" r="11.05" fill="#3050D8" stroke="#3050D8" stroke-width="1.89"/><circle cx="791.93" cy="508.42" r="11.3" fill="#3050D8" stroke="#3050D8" stroke-width="1.89"/><circle cx="788.15" cy="516.38" r="11.3" fill="#3050D8" stroke="#3050D8" stroke-width="1.89"/><circle cx="775.09" cy="524.35" r="11.3" fill="#3050D8" stroke="#3050D8" stroke-width="1.89"/><circle cx="782.99" cy="532.32" r="11.3" fill="#3050D8" stroke="#3050D8" stroke-width="1.89"/><circle cx="776.8" cy="540.29" r="7.55" fill="#3050D8" fill-opacity="0.1" stroke="#3050D8" stroke-opacity="0.1" stroke-width="1.89"/><circle cx="787.46" cy="548.25" r="12.05" fill="#3050D8" stroke="#3050D8" stroke-width="1.89"/><circle cx="775.09" cy="556.22" r="8.55" fill="#3050D8" fill-opacity="0.1" stroke="#3050D8" stroke-opacity="0.1" stroke-width="1.89"/><line x1="819.81" y1="561.8" x2="819.81" y2="458.8" stroke="#FF0000" stroke-width="2.84" stroke-dasharray="11.4 11.4"/><rect x="757.9" y="463.8" width="378.1" height="97.2" fill="none" stroke="#333333" stroke-width="2.84"/></g>
<rect x="758.61" y="419.21" width="376.68" height="43.88" fill="#D0D0D0" stroke="#333333" stroke-width="1.42"/>
<text x="946.95" y="449.9" font-size="23.7" fill="#1A1A1A" text-anchor="middle">DDD.kaplanis</text>
<line x1="750.57" y1="468.58" x2="757.9" y2="468.58" stroke="#333333" stroke-width="2.84"/>
<line x1="750.57" y1="476.55" x2="757.9" y2="476.55" stroke="#333333" stroke-width="2.84"/>
<line x1="750.57" y1="484.51" x2="757.9" y2="484.51" stroke="#333333" stroke-width="2.84"/>
<line x1="750.57" y1="492.48" x2="757.9" y2="492.48" stroke="#333333" stroke-width="2.84"/>
<line x1="750.57" y1="500.45" x2="757.9" y2="500.45" stroke="#333333" stroke-width="2.84"/>
<line x1="750.57" y1="508.42" x2="757.9" y2="508.42" stroke="#333333" stroke-width="2.84"/>
<line x1="750.57" y1="516.38" x2="757.9" y2="516.38" stroke="#333333" stroke-width="2.84"/>
<line x1="750.57" y1="524.35" x2="757.9" y2="524.35" stroke="#333333" stroke-width="2.84"/>
<line x1="750.57" y1="532.32" x2="757.9" y2="532.32" stroke="#333333" stroke-width="2.84"/>
<line x1="750.57" y1="540.29" x2="757.9" y2="540.29" stroke="#333333" stroke-width="2.84"/>
<line x1="750.57" y1="548.25" x2="757.9" y2="548.25" stroke="#333333" stroke-width="2.84"/>
<line x1="750.57" y1="556.22" x2="757.9" y2="556.22" stroke="#333333" stroke-width="2.84"/>
<text x="743.8" y="477.58" font-size="23.47" fill="#424242" text-anchor="end">DGE.up</text>
<text x="743.8" y="485.55" font-size="23.47" fill="#424242" text-anchor="end">DTE.up</text>
<text x="743.8" y="493.51" font-size="23.47" fill="#424242" text-anchor="end">DTU.down</text>
<text x="743.8" y="501.48" font-size="23.47" fill="#424242" text-anchor="end">DTU.up</text>
<text x="743.8" y="509.45" font-size="23.47" fill="#424242" text-anchor="end">DTU</text>
<text x="743.8" y="517.42" font-size="23.47" fill="#424242" text-anchor="end">DGE</text>
<text x="743.8" y="525.38" font-size="23.47" fill="#424242" text-anchor="end">DTE</text>
<text x="743.8" y="533.35" font-size="23.47" fill="#424242" text-anchor="end">DTU.not.DGE</text>
<text x="743.8" y="541.32" font-size="23.47" fill="#424242" text-anchor="end">DTE.not.DGE</text>
<text x="743.8" y="549.29" font-size="23.47" fill="#424242" text-anchor="end">DTU.not.DTE</text>
<text x="743.8" y="557.25" font-size="23.47" fill="#424242" text-anchor="end">DTE.down</text>
<text x="743.8" y="565.22" font-size="23.47" fill="#424242" text-anchor="end">DGE.down</text>
<g clip-path="url(#c6)"><line x1="267.25" y1="621.3" x2="267.25" y2="718.5" stroke="#E5E5E5" stroke-width="1.42"/><line x1="353.18" y1="621.3" x2="353.18" y2="718.5" stroke="#E5E5E5" stroke-width="1.42"/><line x1="439.12" y1="621.3" x2="439.12" y2="718.5" stroke="#E5E5E5" stroke-width="1.42"/><line x1="525.05" y1="621.3" x2="525.05" y2="718.5" stroke="#E5E5E5" stroke-width="1.42"/><line x1="207.1" y1="626.08" x2="585.2" y2="626.08" stroke="#E5E5E5" stroke-width="2.84"/><line x1="207.1" y1="634.05" x2="585.2" y2="634.05" stroke="#E5E5E5" stroke-width="2.84"/><line x1="207.1" y1="642.01" x2="585.2" y2="642.01" stroke="#E5E5E5" stroke-width="2.84"/><line x1="207.1" y1="649.98" x2="585.2" y2="649.98" stroke="#E5E5E5" stroke-width="2.84"/><line x1="207.1" y1="657.95" x2="585.2" y2="657.95" stroke="#E5E5E5" stroke-width="2.84"/><line x1="207.1" y1="665.92" x2="585.2" y2="665.92" stroke="#E5E5E5" stroke-width="2.84"/><line x1="207.1" y1="673.88" x2="585.2" y2="673.88" stroke="#E5E5E5" stroke-width="2.84"/><line x1="207.1" y1="681.85" x2="585.2" y2="681.85" stroke="#E5E5E5" stroke-width="2.84"/><line x1="207.1" y1="689.82" x2="585.2" y2="689.82" stroke="#E5E5E5" stroke-width="2.84"/><line x1="207.1" y1="697.79" x2="585.2" y2="697.79" stroke="#E5E5E5" stroke-width="2.84"/><line x1="207.1" y1="705.75" x2="585.2" y2="705.75" stroke="#E5E5E5" stroke-width="2.84"/><line x1="207.1" y1="713.72" x2="585.2" y2="713.72" stroke="#E5E5E5" stroke-width="2.84"/><line x1="224.29" y1="621.3" x2="224.29" y2="718.5" stroke="#E5E5E5" stroke-width="2.84"/><line x1="310.22" y1="621.3" x2="310.22" y2="718.5" stroke="#E5E5E5" stroke-width="2.84"/><line x1="396.15" y1="621.3" x2="396.15" y2="718.5" stroke="#E5E5E5" stroke-width="2.84"/><line x1="482.08" y1="621.3" x2="482.08" y2="718.5" stroke="#E5E5E5" stroke-width="2.84"/><line x1="568.01" y1="621.3" x2="568.01" y2="718.5" stroke="#E5E5E5" stroke-width="2.84"/><circle cx="247.32" cy="626.08" r="15.05" fill="#3050D8" stroke="#3050D8" stroke-width="1.89"/><circle cx="233.22" cy="634.05" r="14.55" fill="#3050D8" stroke="#3050D8" stroke-width="1.89"/><circle cx="227.72" cy="642.01" r="8.05" fill="#3050D8" fill-opacity="0.1" stroke="#3050D8" stroke-opacity="0.1" stroke-width="1.89"/><circle cx="231.16" cy="649.98" r="8.05" fill="#3050D8" fill-opacity="0.1" stroke="#3050D8" stroke-opacity="0.1" stroke-width="1.89"/><circle cx="231.16" cy="657.95" r="8.05" fill="#3050D8" fill-opacity="0.1" stroke="#3050D8" stroke-opacity="0.1" stroke-width="1.89"/><circle cx="233.22" cy="665.92" r="13.9" fill="#3050D8" stroke="#3050D8" stroke-width="1.89"/><circle cx="226.35" cy="673.88" r="12.46" fill="#3050D8" stroke="#3050D8" stroke-width="1.89"/><circle cx="227.72" cy="681.85" r="6.55" fill="#3050D8" fill-opacity="0.1" stroke="#3050D8" stroke-opacity="0.1" stroke-width="1.89"/><circle cx="224.29" cy="689.82" r="3.06" fill="#3050D8" fill-opacity="0.1" stroke="#3050D8" stroke-opacity="0.1" stroke-width="1.89"/><circle cx="224.29" cy="697.79" r="4.05" fill="#3050D8" fill-opacity="0.1" stroke="#3050D8" stroke-opacity="0.1" stroke-width="1.89"/><circle cx="227.72" cy="705.75" r="8.55" fill="#3050D8" fill-opacity="0.1" stroke="#3050D8" stroke-opacity="0.1" stroke-width="1.89"/><circle cx="226" cy="713.72" r="8.55" fill="#3050D8" fill-opacity="0.1" stroke="#3050D8" stroke-opacity="0.1" stroke-width="1.89"/><line x1="269.01" y1="719.3" x2="269.01" y2="616.3" stroke="#FF0000" stroke-width="2.84" stroke-dasharray="11.4 11.4"/><rect x="207.1" y="621.3" width="378.1" height="97.2" fill="none" stroke="#333333" stroke-width="2.84"/></g>
<rect x="207.81" y="576.71" width="376.68" height="43.88" fill="#D0D0D0" stroke="#333333" stroke-width="1.42"/>
<text x="396.15" y="607.4" font-size="23.7" fill="#1A1A1A" text-anchor="middle">EPI.epi25</text>
<line x1="199.77" y1="626.08" x2="207.1" y2="626.08" stroke="#333333" stroke-width="2.84"/>
<line x1="199.77" y1="634.05" x2="207.1" y2="634.05" stroke="#333333" stroke-width="2.84"/>
<line x1="199.77" y1="642.01" x2="207.1" y2="642.01" stroke="#333333" stroke-width="2.84"/>
<line x1="199.77" y1="649.98" x2="207.1" y2="649.98" stroke="#333333" stroke-width="2.84"/>
<line x1="199.77" y1="657.95" x2="207.1" y2="657.95" stroke="#333333" stroke-width="2.84"/>
<line x1="199.77" y1="665.92" x2="207.1" y2="665.92" stroke="#333333" stroke-width="2.84"/>
<line x1="199.77" y1="673.88" x2="207.1" y2="673.88" stroke="#333333" stroke-width="2.84"/>
<line x1="199.77" y1="681.85" x2="207.1" y2="681.85" stroke="#333333" stroke-width="2.84"/>
<line x1="199.77" y1="689.82" x2="207.1" y2="689.82" stroke="#333333" stroke-width="2.84"/>
<line x1="199.77" y1="697.79" x2="207.1" y2="697.79" stroke="#333333" stroke-width="2.84"/>
<line x1="199.77" y1="705.75" x2="207.1" y2="705.75" stroke="#333333" stroke-width="2.84"/>
<line x1="199.77" y1="713.72" x2="207.1" y2="713.72" stroke="#333333" stroke-width="2.84"/>
<text x="193" y="635.08" font-size="23.47" fill="#424242" text-anchor="end">DGE.up</text>
<text x="193" y="643.05" font-size="23.47" fill="#424242" text-anchor="end">DTE.up</text>
<text x="193" y="651.01" font-size="23.47" fill="#424242" text-anchor="end">DTU.down</text>
<text x="193" y="658.98" font-size="23.47" fill="#424242" text-anchor="end">DTU.up</text>
<text x="193" y="666.95" font-size="23.47" fill="#424242" text-anchor="end">DTU</text>
<text x="193" y="674.92" font-size="23.47" fill="#424242" text-anchor="end">DGE</text>
<text x="193" y="682.88" font-size="23.47" fill="#424242" text-anchor="end">DTE</text>
<text x="193" y="690.85" font-size="23.47" fill="#424242" text-anchor="end">DTU.not.DGE</text>
<text x="193" y="698.82" font-size="23.47" fill="#424242" text-anchor="end">DTE.not.DGE</text>
<text x="193" y="706.79" font-size="23.47" fill="#424242" text-anchor="end">DTU.not.DTE</text>
<text x="193" y="714.75" font-size="23.47" fill="#424242" text-anchor="end">DTE.down</text>
<text x="193" y="722.72" font-size="23.47" fill="#424242" text-anchor="end">DGE.down</text>
<g clip-path="url(#c7)"><line x1="818.05" y1="621.3" x2="818.05" y2="718.5" stroke="#E5E5E5" stroke-width="1.42"/><line x1="903.98" y1="621.3" x2="903.98" y2="718.5" stroke="#E5E5E5" stroke-width="1.42"/><line x1="989.92" y1="621.3" x2="989.92" y2="718.5" stroke="#E5E5E5" stroke-width="1.42"/><line x1="1075.85" y1="621.3" x2="1075.85" y2="718.5" stroke="#E5E5E5" stroke-width="1.42"/><line x1="757.9" y1="626.08" x2="1136" y2="626.08" stroke="#E5E5E5" stroke-width="2.84"/><line x1="757.9" y1="634.05" x2="1136" y2="634.05" stroke="#E5E5E5" stroke-width="2.84"/><line x1="757.9" y1="642.01" x2="1136" y2="642.01" stroke="#E5E5E5" stroke-width="2.84"/><line x1="757.9" y1="649.98" x2="1136" y2="649.98" stroke="#E5E5E5" stroke-width="2.84"/><line x1="757.9" y1="657.95" x2="1136" y2="657.95" stroke="#E5E5E5" stroke-width="2.84"/><line x1="757.9" y1="665.92" x2="1136" y2="665.92" stroke="#E5E5E5" stroke-width="2.84"/><line x1="757.9" y1="673.88" x2="1136" y2="673.88" stroke="#E5E5E5" stroke-width="2.84"/><line x1="757.9" y1="681.85" x2="1136" y2="681.85" stroke="#E5E5E5" stroke-width="2.84"/><line x1="757.9" y1="689.82" x2="1136" y2="689.82" stroke="#E5E5E5" stroke-width="2.84"/><line x1="757.9" y1="697.79" x2="1136" y2="697.79" stroke="#E5E5E5" stroke-width="2.84"/><line x1="757.9" y1="705.75" x2="1136" y2="705.75" stroke="#E5E5E5" stroke-width="2.84"/><line x1="757.9" y1="713.72" x2="1136" y2="713.72" stroke="#E5E5E5" stroke-width="2.84"/><line x1="775.09" y1="621.3" x2="775.09" y2="718.5" stroke="#E5E5E5" stroke-width="2.84"/><line x1="861.02" y1="621.3" x2="861.02" y2="718.5" stroke="#E5E5E5" stroke-width="2.84"/><line x1="946.95" y1="621.3" x2="946.95" y2="718.5" stroke="#E5E5E5" stroke-width="2.84"/><line x1="1032.88" y1="621.3" x2="1032.88" y2="718.5" stroke="#E5E5E5" stroke-width="2.84"/><line x1="1118.81" y1="621.3" x2="1118.81" y2="718.5" stroke="#E5E5E5" stroke-width="2.84"/><circle cx="1060.04" cy="626.08" r="17.7" fill="#3050D8" stroke="#3050D8" stroke-width="1.89"/><circle cx="966.89" cy="634.05" r="16.45" fill="#3050D8" stroke="#3050D8" stroke-width="1.89"/><circle cx="783.68" cy="642.01" r="11.75" fill="#3050D8" stroke="#3050D8" stroke-width="1.89"/><circle cx="785.05" cy="649.98" r="11.75" fill="#3050D8" stroke="#3050D8" stroke-width="1.89"/><circle cx="777.49" cy="657.95" r="11.55" fill="#3050D8" stroke="#3050D8" stroke-width="1.89"/><circle cx="884.39" cy="665.92" r="15.05" fill="#3050D8" stroke="#3050D8" stroke-width="1.89"/><circle cx="833.18" cy="673.88" r="14.05" fill="#3050D8" stroke="#3050D8" stroke-width="1.89"/><circle cx="778.18" cy="681.85" r="10.05" fill="#3050D8" fill-opacity="0.1" stroke="#3050D8" stroke-opacity="0.1" stroke-width="1.89"/><circle cx="782.3" cy="689.82" r="10.05" fill="#3050D8" fill-opacity="0.1" stroke="#3050D8" stroke-opacity="0.1" stroke-width="1.89"/><circle cx="775.09" cy="697.79" r="10.9" fill="#3050D8" stroke="#3050D8" stroke-width="1.89"/><circle cx="775.09" cy="705.75" r="11.05" fill="#3050D8" stroke="#3050D8" stroke-width="1.89"/><circle cx="780.93" cy="713.72" r="6.55" fill="#3050D8" fill-opacity="0.1" stroke="#3050D8" stroke-opacity="0.1" stroke-width="1.89"/><line x1="819.81" y1="719.3" x2="819.81" y2="616.3" stroke="#FF0000" stroke-width="2.84" stroke-dasharray="11.4 11.4"/><rect x="757.9" y="621.3" width="378.1" height="97.2" fill="none" stroke="#333333" stroke-width="2.84"/></g>
<rect x="758.61" y="576.71" width="376.68" height="43.88" fill="#D0D0D0" stroke="#333333" stroke-width="1.42"/>
<text x="946.95" y="607.4" font-size="23.7" fill="#1A1A1A" text-anchor="middle">EPI.helbig</text>
<line x1="750.57" y1="626.08" x2="757.9" y2="626.08" stroke="#333333" stroke-width="2.84"/>
<line x1="750.57" y1="634.05" x2="757.9" y2="634.05" stroke="#333333" stroke-width="2.84"/>
<line x1="750.57" y1="642.01" x2="757.9" y2="642.01" stroke="#333333" stroke-width="2.84"/>
<line x1="750.57" y1="649.98" x2="757.9" y2="649.98" stroke="#333333" stroke-width="2.84"/>
<line x1="750.57" y1="657.95" x2="757.9" y2="657.95" stroke="#333333" stroke-width="2.84"/>
<line x1="750.57" y1="665.92" x2="757.9" y2="665.92" stroke="#333333" stroke-width="2.84"/>
<line x1="750.57" y1="673.88" x2="757.9" y2="673.88" stroke="#333333" stroke-width="2.84"/>
<line x1="750.57" y1="681.85" x2="757.9" y2="681.85" stroke="#333333" stroke-width="2.84"/>
<line x1="750.57" y1="689.82" x2="757.9" y2="689.82" stroke="#333333" stroke-width="2.84"/>
<line x1="750.57" y1="697.79" x2="757.9" y2="697.79" stroke="#333333" stroke-width="2.84"/>
<line x1="750.57" y1="705.75" x2="757.9" y2="705.75" stroke="#333333" stroke-width="2.84"/>
<line x1="750.57" y1="713.72" x2="757.9" y2="713.72" stroke="#333333" stroke-width="2.84"/>
<text x="743.8" y="635.08" font-size="23.47" fill="#424242" text-anchor="end">DGE.up</text>
<text x="743.8" y="643.05" font-size="23.47" fill="#424242" text-anchor="end">DTE.up</text>
<text x="743.8" y="651.01" font-size="23.47" fill="#424242" text-anchor="end">DTU.down</text>
<text x="743.8" y="658.98" font-size="23.47" fill="#424242" text-anchor="end">DTU.up</text>
<text x="743.8" y="666.95" font-size="23.47" fill="#424242" text-anchor="end">DTU</text>
<text x="743.8" y="674.92" font-size="23.47" fill="#424242" text-anchor="end">DGE</text>
<text x="743.8" y="682.88" font-size="23.47" fill="#424242" text-anchor="end">DTE</text>
<text x="743.8" y="690.85" font-size="23.47" fill="#424242" text-anchor="end">DTU.not.DGE</text>
<text x="743.8" y="698.82" font-size="23.47" fill="#424242" text-anchor="end">DTE.not.DGE</text>
<text x="743.8" y="706.79" font-size="23.47" fill="#424242" text-anchor="end">DTU.not.DTE</text>
<text x="743.8" y="714.75" font-size="23.47" fill="#424242" text-anchor="end">DTE.down</text>
<text x="743.8" y="722.72" font-size="23.47" fill="#424242" text-anchor="end">DGE.down</text>
<g clip-path="url(#c8)"><line x1="267.25" y1="778.8" x2="267.25" y2="876" stroke="#E5E5E5" stroke-width="1.42"/><line x1="353.18" y1="778.8" x2="353.18" y2="876" stroke="#E5E5E5" stroke-width="1.42"/><line x1="439.12" y1="778.8" x2="439.12" y2="876" stroke="#E5E5E5" stroke-width="1.42"/><line x1="525.05" y1="778.8" x2="525.05" y2="876" stroke="#E5E5E5" stroke-width="1.42"/><line x1="207.1" y1="783.58" x2="585.2" y2="783.58" stroke="#E5E5E5" stroke-width="2.84"/><line x1="207.1" y1="791.55" x2="585.2" y2="791.55" stroke="#E5E5E5" stroke-width="2.84"/><line x1="207.1" y1="799.51" x2="585.2" y2="799.51" stroke="#E5E5E5" stroke-width="2.84"/><line x1="207.1" y1="807.48" x2="585.2" y2="807.48" stroke="#E5E5E5" stroke-width="2.84"/><line x1="207.1" y1="815.45" x2="585.2" y2="815.45" stroke="#E5E5E5" stroke-width="2.84"/><line x1="207.1" y1="823.42" x2="585.2" y2="823.42" stroke="#E5E5E5" stroke-width="2.84"/><line x1="207.1" y1="831.38" x2="585.2" y2="831.38" stroke="#E5E5E5" stroke-width="2.84"/><line x1="207.1" y1="839.35" x2="585.2" y2="839.35" stroke="#E5E5E5" stroke-width="2.84"/><line x1="207.1" y1="847.32" x2="585.2" y2="847.32" stroke="#E5E5E5" stroke-width="2.84"/><line x1="207.1" y1="855.29" x2="585.2" y2="855.29" stroke="#E5E5E5" stroke-width="2.84"/><line x1="207.1" y1="863.25" x2="585.2" y2="863.25" stroke="#E5E5E5" stroke-width="2.84"/><line x1="207.1" y1="871.22" x2="585.2" y2="871.22" stroke="#E5E5E5" stroke-width="2.84"/><line x1="224.29" y1="778.8" x2="224.29" y2="876" stroke="#E5E5E5" stroke-width="2.84"/><line x1="310.22" y1="778.8" x2="310.22" y2="876" stroke="#E5E5E5" stroke-width="2.84"/><line x1="396.15" y1="778.8" x2="396.15" y2="876" stroke="#E5E5E5" stroke-width="2.84"/><line x1="482.08" y1="778.8" x2="482.08" y2="876" stroke="#E5E5E5" stroke-width="2.84"/><line x1="568.01" y1="778.8" x2="568.01" y2="876" stroke="#E5E5E5" stroke-width="2.84"/><circle cx="499.61" cy="783.58" r="13.55" fill="#3050D8" stroke="#3050D8" stroke-width="1.89"/><circle cx="527.11" cy="791.55" r="13.55" fill="#3050D8" stroke="#3050D8" stroke-width="1.89"/><circle cx="548.42" cy="799.51" r="13.55" fill="#3050D8" stroke="#3050D8" stroke-width="1.89"/><circle cx="431.9" cy="807.48" r="13.46" fill="#3050D8" stroke="#3050D8" stroke-width="1.89"/><circle cx="423.3" cy="815.45" r="13.46" fill="#3050D8" stroke="#3050D8" stroke-width="1.89"/><circle cx="237.35" cy="823.42" r="11.65" fill="#3050D8" stroke="#3050D8" stroke-width="1.89"/><circle cx="277.22" cy="831.38" r="12.21" fill="#3050D8" stroke="#3050D8" stroke-width="1.89"/><circle cx="314.69" cy="839.35" r="12.15" fill="#3050D8" stroke="#3050D8" stroke-width="1.89"/><circle cx="298.19" cy="847.32" r="12.71" fill="#3050D8" stroke="#3050D8" stroke-width="1.89"/><circle cx="237.35" cy="855.29" r="11.55" fill="#3050D8" stroke="#3050D8" stroke-width="1.89"/><circle cx="247.66" cy="863.25" r="11.36" fill="#3050D8" stroke="#3050D8" stroke-width="1.89"/><circle cx="235.63" cy="871.22" r="9.05" fill="#3050D8" fill-opacity="0.1" stroke="#3050D8" stroke-opacity="0.1" stroke-width="1.89"/><line x1="269.01" y1="876.8" x2="269.01" y2="773.8" stroke="#FF0000" stroke-width="2.84" stroke-dasharray="11.4 11.4"/><rect x="207.1" y="778.8" width="378.1" height="97.2" fill="none" stroke="#333333" stroke-width="2.84"/></g>
<rect x="207.81" y="734.21" width="376.68" height="43.88" fill="#D0D0D0" stroke="#333333" stroke-width="1.42"/>
<text x="396.15" y="764.9" font-size="23.7" fill="#1A1A1A" text-anchor="middle">NDD.fuTADA</text>
<line x1="199.77" y1="783.58" x2="207.1" y2="783.58" stroke="#333333" stroke-width="2.84"/>
<line x1="199.77" y1="791.55" x2="207.1" y2="791.55" stroke="#333333" stroke-width="2.84"/>
<line x1="199.77" y1="799.51" x2="207.1" y2="799.51" stroke="#333333" stroke-width="2.84"/>
<line x1="199.77" y1="807.48" x2="207.1" y2="807.48" stroke="#333333" stroke-width="2.84"/>
<line x1="199.77" y1="815.45" x2="207.1" y2="815.45" stroke="#333333" stroke-width="2.84"/>
<line x1="199.77" y1="823.42" x2="207.1" y2="823.42" stroke="#333333" stroke-width="2.84"/>
<line x1="199.77" y1="831.38" x2="207.1" y2="831.38" stroke="#333333" stroke-width="2.84"/>
<line x1="199.77" y1="839.35" x2="207.1" y2="839.35" stroke="#333333" stroke-width="2.84"/>
<line x1="199.77" y1="847.32" x2="207.1" y2="847.32" stroke="#333333" stroke-width="2.84"/>
<line x1="199.77" y1="855.29" x2="207.1" y2="855.29" stroke="#333333" stroke-width="2.84"/>
<line x1="199.77" y1="863.25" x2="207.1" y2="863.25" stroke="#333333" stroke-width="2.84"/>
<line x1="199.77" y1="871.22" x2="207.1" y2="871.22" stroke="#333333" stroke-width="2.84"/>
<text x="193" y="792.58" font-size="23.47" fill="#424242" text-anchor="end">DGE.up</text>
<text x="193" y="800.55" font-size="23.47" fill="#424242" text-anchor="end">DTE.up</text>
<text x="193" y="808.51" font-size="23.47" fill="#424242" text-anchor="end">DTU.down</text>
<text x="193" y="816.48" font-size="23.47" fill="#424242" text-anchor="end">DTU.up</text>
<text x="193" y="824.45" font-size="23.47" fill="#424242" text-anchor="end">DTU</text>
<text x="193" y="832.42" font-size="23.47" fill="#424242" text-anchor="end">DGE</text>
<text x="193" y="840.38" font-size="23.47" fill="#424242" text-anchor="end">DTE</text>
<text x="193" y="848.35" font-size="23.47" fill="#424242" text-anchor="end">DTU.not.DGE</text>
<text x="193" y="856.32" font-size="23.47" fill="#424242" text-anchor="end">DTE.not.DGE</text>
<text x="193" y="864.29" font-size="23.47" fill="#424242" text-anchor="end">DTU.not.DTE</text>
<text x="193" y="872.25" font-size="23.47" fill="#424242" text-anchor="end">DTE.down</text>
<text x="193" y="880.22" font-size="23.47" fill="#424242" text-anchor="end">DGE.down</text>
<line x1="224.29" y1="876" x2="224.29" y2="883.33" stroke="#333333" stroke-width="2.84"/>
<text x="224.29" y="905.7" font-size="23.7" fill="#424242" text-anchor="middle">0.0</text>
<line x1="310.22" y1="876" x2="310.22" y2="883.33" stroke="#333333" stroke-width="2.84"/>
<text x="310.22" y="905.7" font-size="23.7" fill="#424242" text-anchor="middle">2.5</text>
<line x1="396.15" y1="876" x2="396.15" y2="883.33" stroke="#333333" stroke-width="2.84"/>
<text x="396.15" y="905.7" font-size="23.7" fill="#424242" text-anchor="middle">5.0</text>
<line x1="482.08" y1="876" x2="482.08" y2="883.33" stroke="#333333" stroke-width="2.84"/>
<text x="482.08" y="905.7" font-size="23.7" fill="#424242" text-anchor="middle">7.5</text>
<line x1="568.01" y1="876" x2="568.01" y2="883.33" stroke="#333333" stroke-width="2.84"/>
<text x="568.01" y="905.7" font-size="23.7" fill="#424242" text-anchor="middle">10.0</text>
<g clip-path="url(#c9)"><line x1="818.05" y1="778.8" x2="818.05" y2="876" stroke="#E5E5E5" stroke-width="1.42"/><line x1="903.98" y1="778.8" x2="903.98" y2="876" stroke="#E5E5E5" stroke-width="1.42"/><line x1="989.92" y1="778.8" x2="989.92" y2="876" stroke="#E5E5E5" stroke-width="1.42"/><line x1="1075.85" y1="778.8" x2="1075.85" y2="876" stroke="#E5E5E5" stroke-width="1.42"/><line x1="757.9" y1="783.58" x2="1136" y2="783.58" stroke="#E5E5E5" stroke-width="2.84"/><line x1="757.9" y1="791.55" x2="1136" y2="791.55" stroke="#E5E5E5" stroke-width="2.84"/><line x1="757.9" y1="799.51" x2="1136" y2="799.51" stroke="#E5E5E5" stroke-width="2.84"/><line x1="757.9" y1="807.48" x2="1136" y2="807.48" stroke="#E5E5E5" stroke-width="2.84"/><line x1="757.9" y1="815.45" x2="1136" y2="815.45" stroke="#E5E5E5" stroke-width="2.84"/><line x1="757.9" y1="823.42" x2="1136" y2="823.42" stroke="#E5E5E5" stroke-width="2.84"/><line x1="757.9" y1="831.38" x2="1136" y2="831.38" stroke="#E5E5E5" stroke-width="2.84"/><line x1="757.9" y1="839.35" x2="1136" y2="839.35" stroke="#E5E5E5" stroke-width="2.84"/><line x1="757.9" y1="847.32" x2="1136" y2="847.32" stroke="#E5E5E5" stroke-width="2.84"/><line x1="757.9" y1="855.29" x2="1136" y2="855.29" stroke="#E5E5E5" stroke-width="2.84"/><line x1="757.9" y1="863.25" x2="1136" y2="863.25" stroke="#E5E5E5" stroke-width="2.84"/><line x1="757.9" y1="871.22" x2="1136" y2="871.22" stroke="#E5E5E5" stroke-width="2.84"/><line x1="775.09" y1="778.8" x2="775.09" y2="876" stroke="#E5E5E5" stroke-width="2.84"/><line x1="861.02" y1="778.8" x2="861.02" y2="876" stroke="#E5E5E5" stroke-width="2.84"/><line x1="946.95" y1="778.8" x2="946.95" y2="876" stroke="#E5E5E5" stroke-width="2.84"/><line x1="1032.88" y1="778.8" x2="1032.88" y2="876" stroke="#E5E5E5" stroke-width="2.84"/><line x1="1118.81" y1="778.8" x2="1118.81" y2="876" stroke="#E5E5E5" stroke-width="2.84"/><circle cx="794.68" cy="783.58" r="14.3" fill="#3050D8" stroke="#3050D8" stroke-width="1.89"/><circle cx="793.99" cy="791.55" r="12.55" fill="#3050D8" stroke="#3050D8" stroke-width="1.89"/><circle cx="776.12" cy="799.51" r="12.05" fill="#3050D8" stroke="#3050D8" stroke-width="1.89"/><circle cx="788.84" cy="807.48" r="12.55" fill="#3050D8" stroke="#3050D8" stroke-width="1.89"/><circle cx="781.96" cy="815.45" r="12.05" fill="#3050D8" stroke="#3050D8" stroke-width="1.89"/><circle cx="776.12" cy="823.42" r="11.55" fill="#3050D8" stroke="#3050D8" stroke-width="1.89"/><circle cx="782.65" cy="831.38" r="8.05" fill="#3050D8" fill-opacity="0.1" stroke="#3050D8" stroke-opacity="0.1" stroke-width="1.89"/><circle cx="775.43" cy="839.35" r="11.3" fill="#3050D8" stroke="#3050D8" stroke-width="1.89"/><circle cx="783.68" cy="847.32" r="11.3" fill="#3050D8" stroke="#3050D8" stroke-width="1.89"/><circle cx="785.4" cy="855.29" r="13.86" fill="#3050D8" stroke="#3050D8" stroke-width="1.89"/><circle cx="780.24" cy="863.25" r="8.05" fill="#3050D8" fill-opacity="0.1" stroke="#3050D8" stroke-opacity="0.1" stroke-width="1.89"/><circle cx="779.21" cy="871.22" r="8.55" fill="#3050D8" fill-opacity="0.1" stroke="#3050D8" stroke-opacity="0.1" stroke-width="1.89"/><line x1="819.81" y1="876.8" x2="819.81" y2="773.8" stroke="#FF0000" stroke-width="2.84" stroke-dasharray="11.4 11.4"/><rect x="757.9" y="778.8" width="378.1" height="97.2" fill="none" stroke="#333333" stroke-width="2.84"/></g>
<rect x="758.61" y="734.21" width="376.68" height="43.88" fill="#D0D0D0" stroke="#333333" stroke-width="1.42"/>
<text x="946.95" y="764.9" font-size="23.7" fill="#1A1A1A" text-anchor="middle">SCZ.schema</text>
<line x1="750.57" y1="783.58" x2="757.9" y2="783.58" stroke="#333333" stroke-width="2.84"/>
<line x1="750.57" y1="791.55" x2="757.9" y2="791.55" stroke="#333333" stroke-width="2.84"/>
<line x1="750.57" y1="799.51" x2="757.9" y2="799.51" stroke="#333333" stroke-width="2.84"/>
<line x1="750.57" y1="807.48" x2="757.9" y2="807.48" stroke="#333333" stroke-width="2.84"/>
<line x1="750.57" y1="815.45" x2="757.9" y2="815.45" stroke="#333333" stroke-width="2.84"/>
<line x1="750.57" y1="823.42" x2="757.9" y2="823.42" stroke="#333333" stroke-width="2.84"/>
<line x1="750.57" y1="831.38" x2="757.9" y2="831.38" stroke="#333333" stroke-width="2.84"/>
<line x1="750.57" y1="839.35" x2="757.9" y2="839.35" stroke="#333333" stroke-width="2.84"/>
<line x1="750.57" y1="847.32" x2="757.9" y2="847.32" stroke="#333333" stroke-width="2.84"/>
<line x1="750.57" y1="855.29" x2="757.9" y2="855.29" stroke="#333333" stroke-width="2.84"/>
<line x1="750.57" y1="863.25" x2="757.9" y2="863.25" stroke="#333333" stroke-width="2.84"/>
<line x1="750.57" y1="871.22" x2="757.9" y2="871.22" stroke="#333333" stroke-width="2.84"/>
<text x="743.8" y="792.58" font-size="23.47" fill="#424242" text-anchor="end">DGE.up</text>
<text x="743.8" y="800.55" font-size="23.47" fill="#424242" text-anchor="end">DTE.up</text>
<text x="743.8" y="808.51" font-size="23.47" fill="#424242" text-anchor="end">DTU.down</text>
<text x="743.8" y="816.48" font-size="23.47" fill="#424242" text-anchor="end">DTU.up</text>
<text x="743.8" y="824.45" font-size="23.47" fill="#424242" text-anchor="end">DTU</text>
<text x="743.8" y="832.42" font-size="23.47" fill="#424242" text-anchor="end">DGE</text>
<text x="743.8" y="840.38" font-size="23.47" fill="#424242" text-anchor="end">DTE</text>
<text x="743.8" y="848.35" font-size="23.47" fill="#424242" text-anchor="end">DTU.not.DGE</text>
<text x="743.8" y="856.32" font-size="23.47" fill="#424242" text-anchor="end">DTE.not.DGE</text>
<text x="743.8" y="864.29" font-size="23.47" fill="#424242" text-anchor="end">DTU.not.DTE</text>
<text x="743.8" y="872.25" font-size="23.47" fill="#424242" text-anchor="end">DTE.down</text>
<text x="743.8" y="880.22" font-size="23.47" fill="#424242" text-anchor="end">DGE.down</text>
<line x1="775.09" y1="876" x2="775.09" y2="883.33" stroke="#333333" stroke-width="2.84"/>
<text x="775.09" y="905.7" font-size="23.7" fill="#424242" text-anchor="middle">0.0</text>
<line x1="861.02" y1="876" x2="861.02" y2="883.33" stroke="#333333" stroke-width="2.84"/>
<text x="861.02" y="905.7" font-size="23.7" fill="#424242" text-anchor="middle">2.5</text>
<line x1="946.95" y1="876" x2="946.95" y2="883.33" stroke="#333333" stroke-width="2.84"/>
<text x="946.95" y="905.7" font-size="23.7" fill="#424242" text-anchor="middle">5.0</text>
<line x1="1032.88" y1="876" x2="1032.88" y2="883.33" stroke="#333333" stroke-width="2.84"/>
<text x="1032.88" y="905.7" font-size="23.7" fill="#424242" text-anchor="middle">7.5</text>
<line x1="1118.81" y1="876" x2="1118.81" y2="883.33" stroke="#333333" stroke-width="2.84"/>
<text x="1118.81" y="905.7" font-size="23.7" fill="#424242" text-anchor="middle">10.0</text>
<text x="671.55" y="939.6" font-size="29.63" fill="#000" text-anchor="middle">-log10(fdr)</text>
<text x="1180" y="351.3" font-size="29.63" fill="#000">OR</text>
<circle cx="1202.7" cy="390.8" r="11.3" fill="#3050D8" stroke="#3050D8" stroke-width="1.89"/>
<text x="1240" y="400.2" font-size="23.7" fill="#000">1</text>
<circle cx="1202.7" cy="436.9" r="14.42" fill="#3050D8" stroke="#3050D8" stroke-width="1.89"/>
<text x="1240" y="446" font-size="23.7" fill="#000">2</text>
<circle cx="1202.7" cy="483.1" r="16.8" fill="#3050D8" stroke="#3050D8" stroke-width="1.89"/>
<text x="1240" y="492.5" font-size="23.7" fill="#000">3</text>
<text x="1180" y="589.2" font-size="29.63" fill="#000">(OR &gt; 1)</text>
<circle cx="1202.5" cy="629.5" r="5.21" fill="#3050D8" fill-opacity="0.1" stroke="#3050D8" stroke-opacity="0.1" stroke-width="1.89"/>
<text x="1240" y="637.8" font-size="23.7" fill="#000">FALSE</text>
<circle cx="1202.5" cy="675.3" r="5.21" fill="#3050D8" stroke="#3050D8" stroke-width="1.89"/>
<text x="1240" y="683.8" font-size="23.7" fill="#000">TRUE</text>
</svg></body></html>
